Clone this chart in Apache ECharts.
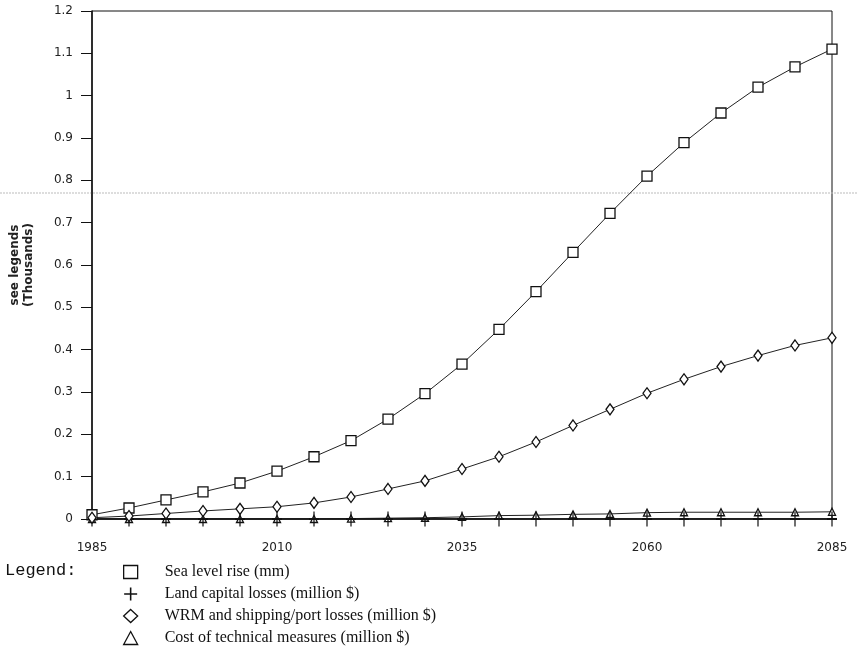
<!DOCTYPE html>
<html>
<head>
<meta charset="utf-8">
<script src="https://cdn.jsdelivr.net/npm/echarts@6/dist/echarts.min.js"></script>
<style>
  html, body { margin: 0; padding: 0; background: #fff; }
  #chart { width: 857px; height: 655px; }
</style>
</head>
<body>
<div id="chart"></div>
<script>
// Years on the horizontal axis (every 5 years)
const years = ['1985','1990','1995','2000','2005','2010','2015','2020','2025','2030','2035',
               '2040','2045','2050','2055','2060','2065','2070','2075','2080','2085'];

// Values in thousands
const seaLevelRise = [0.010, 0.026, 0.045, 0.064, 0.085, 0.113, 0.147, 0.185, 0.236, 0.296, 0.366,
                      0.448, 0.537, 0.630, 0.722, 0.810, 0.889, 0.959, 1.020, 1.068, 1.110];
const landCapitalLosses = [0, 0, 0, 0, 0, 0, 0, 0, 0, 0, 0,
                           0, 0, 0, 0, 0, 0, 0, 0, 0, 0];
const wrmShippingLosses = [0.003, 0.007, 0.013, 0.019, 0.024, 0.029, 0.038, 0.052, 0.071, 0.090, 0.118,
                           0.147, 0.182, 0.221, 0.259, 0.297, 0.330, 0.360, 0.386, 0.410, 0.428];
const technicalCosts = [0, 0, 0, 0, 0, 0, 0, 0.001, 0.002, 0.003, 0.005,
                        0.008, 0.009, 0.011, 0.012, 0.015, 0.016, 0.016, 0.016, 0.016, 0.017];

const seriesNames = ['Sea level rise (mm)', 'Land capital losses (million $)',
                     'WRM and shipping/port losses (million $)', 'Cost of technical measures (million $)'];

const plusPath = 'path://M4.4,0h1.2v10h-1.2zM0,4.4h10v1.2h-10z';
const tickFont = { fontFamily: 'DejaVu Sans', fontSize: 12, color: '#222' };

const openSymbol = { color: '#fff', borderColor: '#111', borderWidth: 1.3 };
const thinLine = { color: '#222', width: 1 };

const chart = echarts.init(document.getElementById('chart'), null, { renderer: 'canvas' });

chart.setOption({
  backgroundColor: '#fff',
  animation: false,
  title: {
    text: 'Legend:',
    left: 0,
    top: 557,
    textStyle: { fontFamily: 'Liberation Mono', fontSize: 17, fontWeight: 'normal', color: '#111' }
  },
  legend: {
    orient: 'vertical',
    left: 118,
    top: 559,
    itemGap: 6,
    itemWidth: 14,
    itemHeight: 13,
    textStyle: { fontFamily: 'Liberation Serif', fontSize: 16, color: '#111', padding: [0, 0, 0, 22] },
    data: [
      { name: seriesNames[0], icon: 'rect', itemStyle: openSymbol },
      { name: seriesNames[1], icon: plusPath, itemStyle: { color: '#111' } },
      { name: seriesNames[2], icon: 'diamond', itemStyle: openSymbol },
      { name: seriesNames[3], icon: 'triangle', itemStyle: openSymbol }
    ]
  },
  grid: {
    left: 87, right: 25, top: 11, bottom: 136,
    show: true, borderColor: '#111', borderWidth: 1
  },
  xAxis: {
    type: 'category',
    data: years,
    boundaryGap: false,
    axisLine: { lineStyle: { color: '#111', width: 1.5 } },
    axisTick: { show: false },
    axisLabel: { ...tickFont, interval: 4, margin: 23 },
    splitLine: { show: false }
  },
  yAxis: {
    type: 'value',
    min: 0, max: 1.2, interval: 0.1,
    name: 'see legends\n(Thousands)',
    nameLocation: 'middle',
    nameGap: 56,
    nameTextStyle: { fontFamily: 'DejaVu Sans', fontSize: 12, fontWeight: 'bold', color: '#222', lineHeight: 14 },
    axisLine: { show: true, lineStyle: { color: '#111', width: 1.5 } },
    axisTick: { show: true, length: 11, lineStyle: { color: '#111' } },
    axisLabel: { ...tickFont, margin: 19, formatter: v => String(Math.round(v * 10) / 10) },
    splitLine: { show: false }
  },
  graphic: [
    { type: 'line', silent: true, z: 0,
      shape: { x1: 0, y1: 193, x2: 857, y2: 193 },
      style: { stroke: '#bbb', lineWidth: 1, lineDash: [2, 1] } }
  ],
  series: [
    { name: seriesNames[0], type: 'line', data: seaLevelRise,
      symbol: 'rect', symbolSize: 10, showAllSymbol: true,
      itemStyle: openSymbol, lineStyle: thinLine, z: 4 },
    { name: seriesNames[1], type: 'line', data: landCapitalLosses,
      symbol: plusPath, symbolSize: [10, 15], showAllSymbol: true,
      itemStyle: { color: '#111' }, lineStyle: { color: '#111', width: 1.2 }, z: 3 },
    { name: seriesNames[2], type: 'line', data: wrmShippingLosses,
      symbol: 'diamond', symbolSize: [8, 11], showAllSymbol: true,
      itemStyle: openSymbol, lineStyle: thinLine, z: 4 },
    { name: seriesNames[3], type: 'line', data: technicalCosts,
      symbol: 'triangle', symbolSize: 7, showAllSymbol: true,
      itemStyle: openSymbol, lineStyle: thinLine, z: 2 }
  ]
});
</script>
</body>
</html>
